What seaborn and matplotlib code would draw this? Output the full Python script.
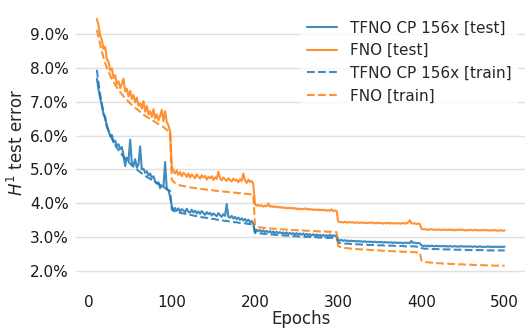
import numpy as np
import pandas as pd
import matplotlib
matplotlib.use("Agg")
import matplotlib.pyplot as plt
import seaborn as sns
from matplotlib.ticker import PercentFormatter, MultipleLocator

# epochs logged every 2 epochs, from 10 to 500
epochs = np.arange(10, 501, 2)

# H1 test / train error in percent
# (lr drops at 100, 200, 300, 400)
tfno_test = [
    7.68, 7.35, 7.10, 6.90, 6.62, 6.55, 6.25, 6.15, 5.98, 6.02,
    5.80, 5.85, 5.70, 5.74, 5.60, 5.66, 5.42, 5.10, 5.35, 5.25,
    5.88, 5.20, 5.12, 5.30, 5.05, 5.15, 5.68, 5.00, 5.02, 4.90,
    4.95, 4.82, 4.88, 4.75, 4.80, 4.65, 4.58, 4.62, 4.45, 4.52,
    4.48, 5.22, 4.42, 4.38, 4.20,
    3.92, 3.80, 3.86, 3.78, 3.85, 3.76, 3.83, 3.79, 3.74, 3.84,
    3.75, 3.72, 3.81, 3.73, 3.78, 3.70, 3.76, 3.69, 3.77, 3.71,
    3.66, 3.74, 3.68, 3.72, 3.64, 3.70, 3.66, 3.62, 3.71, 3.65,
    3.60, 3.68, 3.63, 3.98, 3.61, 3.57, 3.63, 3.55, 3.60, 3.53,
    3.58, 3.51, 3.56, 3.49, 3.54, 3.46, 3.52, 3.44, 3.48, 3.40,
    3.12, 3.22, 3.18, 3.21, 3.16, 3.20, 3.15, 3.19, 3.14, 3.18,
    3.13, 3.17, 3.12, 3.16, 3.12, 3.15, 3.11, 3.14, 3.10, 3.14,
    3.09, 3.13, 3.09, 3.12, 3.08, 3.12, 3.08, 3.11, 3.07, 3.11,
    3.06, 3.10, 3.06, 3.09, 3.05, 3.09, 3.04, 3.08, 3.04, 3.07,
    3.03, 3.07, 3.03, 3.06, 3.02, 3.08, 3.02, 3.06, 3.03, 3.05,
    2.92, 2.90, 2.92, 2.89, 2.91, 2.89, 2.90, 2.88, 2.90, 2.88,
    2.89, 2.87, 2.89, 2.87, 2.88, 2.86, 2.88, 2.86, 2.87, 2.86,
    2.87, 2.85, 2.87, 2.85, 2.86, 2.85, 2.86, 2.84, 2.86, 2.84,
    2.85, 2.84, 2.85, 2.83, 2.85, 2.83, 2.84, 2.83, 2.84, 2.82,
    2.84, 2.83, 2.84, 2.82, 2.89, 2.83, 2.84, 2.82, 2.83, 2.82,
    2.76, 2.74, 2.75, 2.74, 2.75, 2.73, 2.75, 2.74, 2.73, 2.75,
    2.73, 2.74, 2.73, 2.74, 2.73, 2.74, 2.72, 2.74, 2.73, 2.72,
    2.74, 2.72, 2.73, 2.72, 2.74, 2.72, 2.73, 2.72, 2.73, 2.72,
    2.73, 2.71, 2.73, 2.72, 2.71, 2.73, 2.72, 2.71, 2.72, 2.71,
    2.73, 2.71, 2.72, 2.71, 2.72, 2.71, 2.72, 2.71, 2.72, 2.71,
    2.72,
]

fno_test = [
    9.44, 9.25, 8.95, 8.82, 8.55, 8.62, 8.25, 8.18, 7.92, 7.98,
    7.70, 7.78, 7.52, 7.60, 7.40, 7.52, 7.68, 7.30, 7.38, 7.15,
    7.32, 7.08, 7.20, 6.98, 7.12, 6.88, 6.95, 6.80, 7.02, 6.70,
    6.88, 6.62, 6.72, 6.55, 6.78, 6.50, 6.62, 6.45, 6.58, 6.76,
    6.42, 6.72, 6.40, 6.30, 6.12,
    5.10, 4.95, 4.88, 4.97, 4.84, 4.92, 4.80, 4.90, 4.86, 4.78,
    4.88, 4.76, 4.85, 4.80, 4.74, 4.86, 4.79, 4.73, 4.83, 4.76,
    4.81, 4.70, 4.78, 4.74, 4.80, 4.69, 4.77, 4.72, 4.93, 4.74,
    4.68, 4.76, 4.71, 4.66, 4.74, 4.69, 4.64, 4.73, 4.67, 4.70,
    4.62, 4.71, 4.65, 4.88, 4.68, 4.60, 4.70, 4.63, 4.66, 4.57,
    3.97, 3.93, 3.95, 3.92, 3.94, 3.90, 3.93, 3.91, 3.99, 3.90,
    3.92, 3.89, 3.91, 3.88, 3.90, 3.87, 3.89, 3.86, 3.88, 3.85,
    3.87, 3.85, 3.87, 3.84, 3.86, 3.83, 3.85, 3.82, 3.84, 3.83,
    3.85, 3.82, 3.84, 3.81, 3.83, 3.80, 3.82, 3.80, 3.82, 3.79,
    3.81, 3.79, 3.81, 3.78, 3.80, 3.78, 3.82, 3.77, 3.79, 3.78,
    3.46, 3.44, 3.45, 3.43, 3.45, 3.44, 3.43, 3.45, 3.43, 3.44,
    3.42, 3.44, 3.43, 3.42, 3.44, 3.42, 3.43, 3.41, 3.43, 3.42,
    3.44, 3.41, 3.42, 3.41, 3.43, 3.41, 3.42, 3.40, 3.42, 3.41,
    3.43, 3.40, 3.42, 3.41, 3.40, 3.42, 3.40, 3.41, 3.40, 3.42,
    3.40, 3.41, 3.43, 3.50, 3.41, 3.40, 3.41, 3.39, 3.40, 3.39,
    3.25, 3.23, 3.24, 3.22, 3.23, 3.22, 3.24, 3.22, 3.23, 3.21,
    3.23, 3.22, 3.21, 3.23, 3.21, 3.22, 3.21, 3.23, 3.21, 3.22,
    3.20, 3.22, 3.21, 3.23, 3.21, 3.22, 3.20, 3.21, 3.20, 3.22,
    3.21, 3.20, 3.22, 3.20, 3.21, 3.20, 3.21, 3.20, 3.22, 3.20,
    3.21, 3.19, 3.21, 3.20, 3.21, 3.19, 3.20, 3.19, 3.21, 3.19,
    3.20,
]

tfno_train = [
    7.94, 7.55, 7.20, 6.92, 6.68, 6.48, 6.30, 6.15, 6.02, 5.91,
    5.81, 5.72, 5.64, 5.57, 5.50, 5.44, 5.38, 5.32, 5.27, 5.22,
    5.17, 5.12, 5.08, 5.04, 5.00, 4.96, 4.92, 4.88, 4.85, 4.82,
    4.78, 4.75, 4.72, 4.69, 4.66, 4.63, 4.60, 4.57, 4.54, 4.51,
    4.48, 4.45, 4.42, 4.39, 4.36,
    3.82, 3.78, 3.76, 3.74, 3.73, 3.72, 3.71, 3.70, 3.69, 3.68,
    3.67, 3.66, 3.65, 3.64, 3.63, 3.62, 3.61, 3.60, 3.59, 3.58,
    3.58, 3.57, 3.56, 3.55, 3.54, 3.54, 3.53, 3.52, 3.51, 3.51,
    3.50, 3.49, 3.48, 3.48, 3.47, 3.46, 3.46, 3.45, 3.44, 3.44,
    3.43, 3.42, 3.42, 3.41, 3.41, 3.40, 3.39, 3.39, 3.38, 3.38,
    3.16, 3.13, 3.12, 3.11, 3.11, 3.10, 3.10, 3.09, 3.09, 3.08,
    3.08, 3.08, 3.07, 3.07, 3.06, 3.06, 3.06, 3.05, 3.05, 3.05,
    3.04, 3.04, 3.04, 3.03, 3.03, 3.03, 3.02, 3.02, 3.02, 3.02,
    3.01, 3.01, 3.01, 3.01, 3.00, 3.00, 3.00, 3.00, 2.99, 2.99,
    2.99, 2.99, 2.98, 2.98, 2.98, 2.98, 2.98, 2.97, 2.97, 2.97,
    2.84, 2.83, 2.82, 2.82, 2.81, 2.81, 2.81, 2.80, 2.80, 2.80,
    2.79, 2.79, 2.79, 2.79, 2.78, 2.78, 2.78, 2.78, 2.77, 2.77,
    2.77, 2.77, 2.77, 2.76, 2.76, 2.76, 2.76, 2.76, 2.75, 2.75,
    2.75, 2.75, 2.75, 2.75, 2.74, 2.74, 2.74, 2.74, 2.74, 2.74,
    2.73, 2.73, 2.73, 2.73, 2.73, 2.73, 2.73, 2.72, 2.72, 2.72,
    2.68, 2.67, 2.66, 2.66, 2.66, 2.66, 2.65, 2.65, 2.65, 2.65,
    2.65, 2.64, 2.64, 2.64, 2.64, 2.64, 2.64, 2.64, 2.63, 2.63,
    2.63, 2.63, 2.63, 2.63, 2.63, 2.63, 2.63, 2.62, 2.62, 2.62,
    2.62, 2.62, 2.62, 2.62, 2.62, 2.62, 2.62, 2.62, 2.61, 2.61,
    2.61, 2.61, 2.61, 2.61, 2.61, 2.61, 2.61, 2.61, 2.61, 2.61,
    2.61,
]

fno_train = [
    9.12, 8.90, 8.68, 8.48, 8.30, 8.14, 8.00, 7.88, 7.77, 7.67,
    7.58, 7.50, 7.42, 7.35, 7.28, 7.22, 7.16, 7.10, 7.05, 7.00,
    6.95, 6.90, 6.86, 6.82, 6.78, 6.74, 6.70, 6.66, 6.62, 6.58,
    6.55, 6.52, 6.49, 6.46, 6.43, 6.40, 6.37, 6.34, 6.31, 6.28,
    6.25, 6.21, 6.17, 6.13, 6.09,
    4.70, 4.64, 4.60, 4.57, 4.55, 4.53, 4.52, 4.51, 4.50, 4.49,
    4.48, 4.47, 4.46, 4.46, 4.45, 4.44, 4.44, 4.43, 4.42, 4.42,
    4.41, 4.40, 4.40, 4.39, 4.39, 4.38, 4.37, 4.37, 4.36, 4.36,
    4.35, 4.35, 4.34, 4.34, 4.33, 4.33, 4.32, 4.32, 4.31, 4.31,
    4.30, 4.30, 4.29, 4.29, 4.28, 4.28, 4.27, 4.27, 4.26, 4.26,
    3.34, 3.31, 3.30, 3.29, 3.28, 3.28, 3.27, 3.27, 3.26, 3.26,
    3.25, 3.25, 3.25, 3.24, 3.24, 3.24, 3.23, 3.23, 3.23, 3.22,
    3.22, 3.22, 3.21, 3.21, 3.21, 3.21, 3.20, 3.20, 3.20, 3.20,
    3.19, 3.19, 3.19, 3.19, 3.18, 3.18, 3.18, 3.18, 3.17, 3.17,
    3.17, 3.17, 3.17, 3.16, 3.16, 3.16, 3.16, 3.16, 3.15, 3.15,
    2.74, 2.71, 2.70, 2.69, 2.68, 2.68, 2.67, 2.67, 2.66, 2.66,
    2.65, 2.65, 2.65, 2.64, 2.64, 2.64, 2.63, 2.63, 2.63, 2.62,
    2.62, 2.62, 2.61, 2.61, 2.61, 2.61, 2.60, 2.60, 2.60, 2.60,
    2.59, 2.59, 2.59, 2.59, 2.58, 2.58, 2.58, 2.58, 2.57, 2.57,
    2.57, 2.57, 2.56, 2.56, 2.56, 2.56, 2.56, 2.55, 2.55, 2.55,
    2.31, 2.28, 2.27, 2.26, 2.26, 2.25, 2.25, 2.24, 2.24, 2.24,
    2.23, 2.23, 2.23, 2.22, 2.22, 2.22, 2.22, 2.21, 2.21, 2.21,
    2.21, 2.20, 2.20, 2.20, 2.20, 2.20, 2.19, 2.19, 2.19, 2.19,
    2.19, 2.18, 2.18, 2.18, 2.18, 2.18, 2.18, 2.17, 2.17, 2.17,
    2.17, 2.17, 2.17, 2.16, 2.16, 2.16, 2.16, 2.16, 2.16, 2.16,
    2.16,
]

labels = ["TFNO CP 156x [test]", "FNO [test]", "TFNO CP 156x [train]", "FNO [train]"]
series = [tfno_test, fno_test, tfno_train, fno_train]

# long format for seaborn
frames = []
for lab, vals in zip(labels, series):
    assert len(vals) == len(epochs), (lab, len(vals))
    frames.append(pd.DataFrame({"Epochs": epochs, "err": vals, "run": lab}))
df = pd.concat(frames, ignore_index=True)

sns.set_theme(style="whitegrid", context="notebook")
plt.rcParams["font.family"] = ["DejaVu Sans"]

blue = "#1f77b4"
orange = "#ff7f0e"
palette = {labels[0]: blue, labels[1]: orange, labels[2]: blue, labels[3]: orange}
dashes = {labels[0]: "", labels[1]: "", labels[2]: (3.7, 1.6), labels[3]: (3.7, 1.6)}

fig, ax = plt.subplots(figsize=(5.3, 3.32), dpi=100)
sns.lineplot(data=df, x="Epochs", y="err", hue="run", style="run",
             hue_order=labels, style_order=labels, palette=palette,
             dashes=dashes, linewidth=1.5, alpha=0.85, ax=ax)

ax.yaxis.set_major_locator(MultipleLocator(1.0))
ax.yaxis.set_major_formatter(PercentFormatter(xmax=100, decimals=1))
ax.set_xticks([0, 100, 200, 300, 400, 500])
ax.set_xlabel("Epochs", fontsize=12, labelpad=0)
ax.set_ylabel("$H^1$ test error", fontsize=12, labelpad=2)
ax.tick_params(axis="both", labelsize=11, labelcolor="0.1")
ax.grid(axis="x", visible=False)
ax.grid(axis="y", color="0.88", linewidth=1.0)

sns.despine(ax=ax, left=True, bottom=True)
ax.spines["bottom"].set_position(("outward", 5))
ax.spines["left"].set_position(("outward", 2))
ax.tick_params(axis="x", length=3.5, width=0.9, color="0.15", pad=3.5)
ax.tick_params(axis="y", length=0, pad=3.5)

handles, labs = ax.get_legend_handles_labels()
keep = [(h, l) for h, l in zip(handles, labs) if l in labels]
leg = ax.legend([h for h, _ in keep], [l for _, l in keep], loc="upper right",
                fontsize=11, frameon=True, framealpha=0.8, edgecolor="white")

fig.subplots_adjust(left=0.1443, right=0.9906, top=0.980, bottom=0.1627)
fig.savefig("out.png", dpi=100)
